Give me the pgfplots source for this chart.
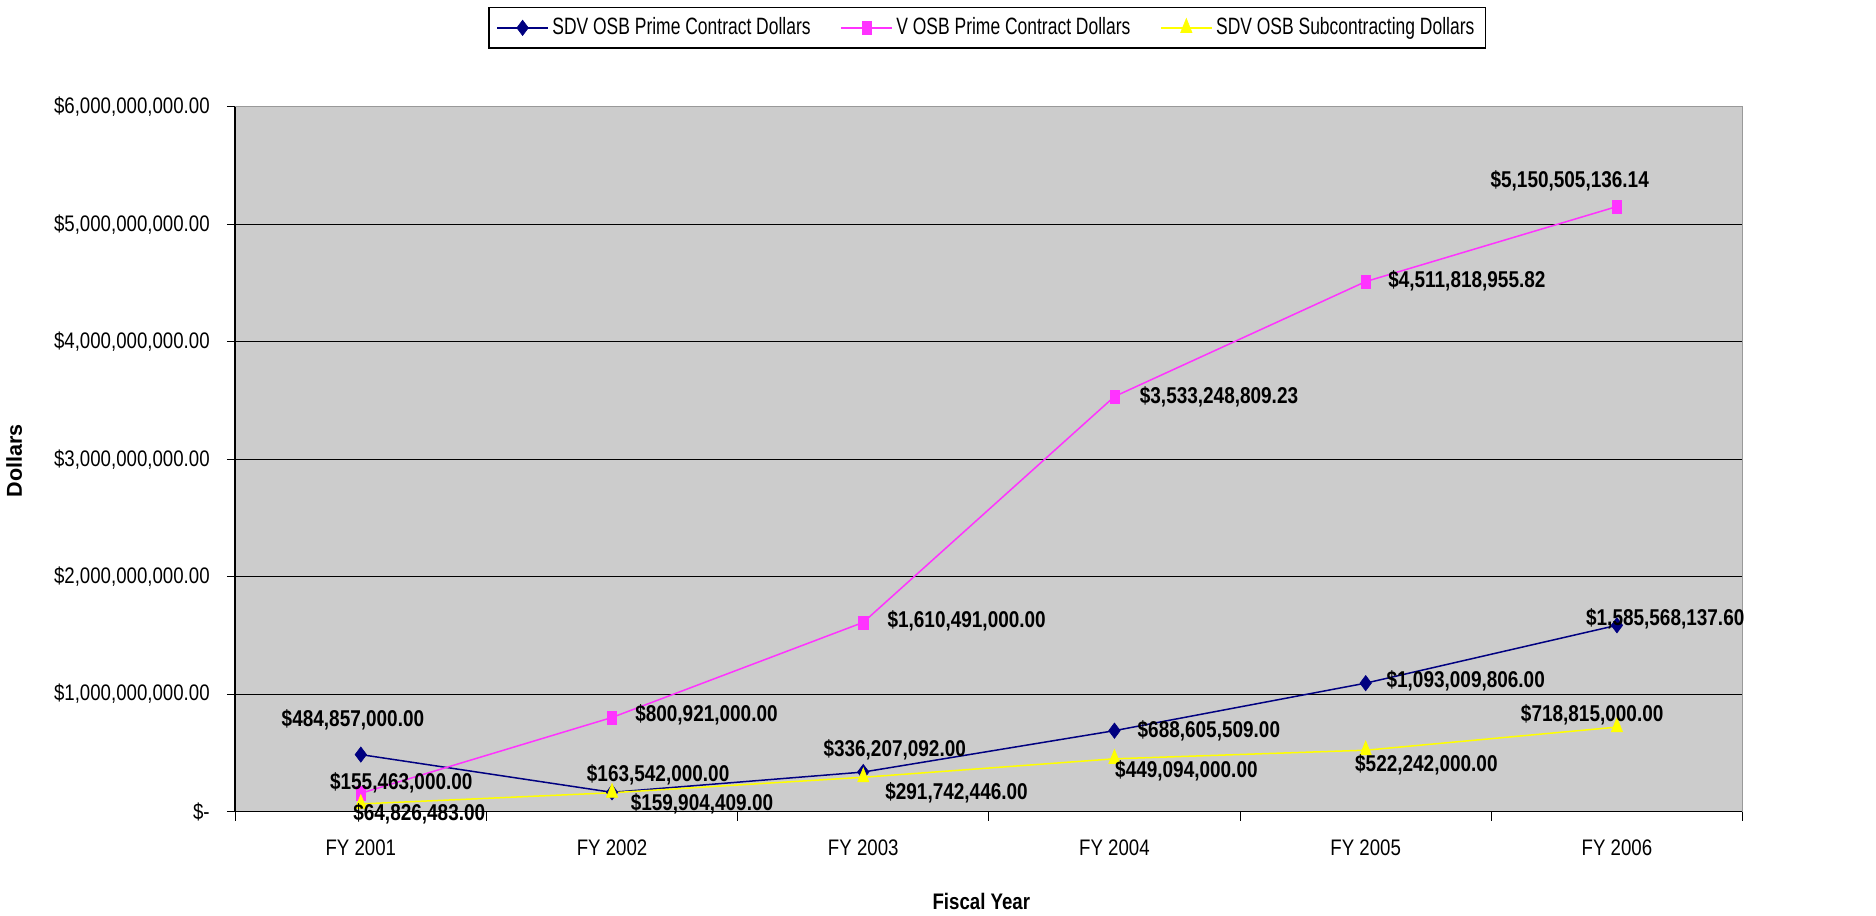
\documentclass[border=0pt]{standalone}
\usepackage{pgfplots}
\pgfplotsset{compat=1.18}
\usepackage{pgfplotstable}
\usepackage{fontspec}
\setmainfont{Liberation Sans}[FakeStretch=0.83]
\newfontfamily\widefont{Liberation Sans}
\newfontfamily\legfont{Liberation Sans}[FakeStretch=0.74]
\definecolor{plotbg}{RGB}{204,204,204}
\definecolor{navy}{RGB}{0,0,128}
\definecolor{magen}{RGB}{255,51,255}
\definecolor{yel}{RGB}{255,255,0}

\pgfplotstableread{
x y dx dy lab
0 484857000 -7 31 {\$484,857,000.00}
1 163542000 41 16 {\$163,542,000.00}
2 336207092 28 20 {\$336,207,092.00}
3 688605509 84 0 {\$688,605,509.00}
4 1093009806 89 2 {\$1,093,009,806.00}
5 1585568137.60 43 6 {\$1,585,568,137.60}
}\sdvp
\pgfplotstableread{
x y dx dy lab
0 155463000 36 9 {\$155,463,000.00}
1 800921000 84 2 {\$800,921,000.00}
2 1610491000 92 1 {\$1,610,491,000.00}
3 3533248809.23 93 0 {\$3,533,248,809.23}
4 4511818955.82 90 1 {\$4,511,818,955.82}
5 5150505136.14 -42 23 {\$5,150,505,136.14}
}\vosb
\pgfplotstableread{
x y dx dy lab
0 64826483 52 -9 {\$64,826,483.00}
1 159904409 80 -10 {\$159,904,409.00}
2 291742446 83 -14 {\$291,742,446.00}
3 449094000 64 -11 {\$449,094,000.00}
4 522242000 54 -13 {\$522,242,000.00}
5 718815000 -22 11 {\$718,815,000.00}
}\sdvs

\begin{document}
\begin{tikzpicture}
\path (-127.2pt,-53.4pt) rectangle (808.8pt,433.2pt);
\begin{axis}[
  at={(0pt,0pt)}, anchor=origin,
  scale only axis, width=804.6pt, height=376.2pt,
  xmin=-0.5, xmax=5.5, ymin=0, ymax=6e9,
  axis lines*=left,
  axis line style={black, line width=0.8pt},
  axis background/.style={fill=plotbg},
  clip=false,
  xtick={0,...,5},
  xticklabels={FY 2001,FY 2002,FY 2003,FY 2004,FY 2005,FY 2006},
  major x tick style={draw=none},
  minor xtick={-0.5,0.5,...,5.5},
  minor x tick style={black, line width=0.6pt},
  minor tick length=5pt,
  ytick={0,1e9,2e9,3e9,4e9,5e9,6e9},
  yticklabels={{\$-\hspace{8pt}},{\$1,000,000,000.00},{\$2,000,000,000.00},{\$3,000,000,000.00},{\$4,000,000,000.00},{\$5,000,000,000.00},{\$6,000,000,000.00}},
  major y tick style={black, line width=0.6pt},
  major tick length=4.5pt,
  tick align=outside,
  ymajorgrids,
  grid style={black, line width=0.6pt},
  scaled y ticks=false,
  ticklabel style={font=\fontsize{12}{14}\selectfont},
  yticklabel style={xshift=-5.6pt},
  xticklabel style={yshift=-7pt},
  xlabel={Fiscal Year},
  ylabel={Dollars},
  every axis x label/.style={at={(rel axis cs:0.495,0)}, yshift=-48pt, anchor=center, font=\fontsize{12}{14}\selectfont\bfseries},
  every axis y label/.style={at={(rel axis cs:0,0.4976)}, xshift=-118pt, rotate=90, anchor=center, font=\widefont\fontsize{11.5}{14}\selectfont\bfseries},
  legend columns=3,
  legend style={at={(rel axis cs:0.499,1.112)}, anchor=center, draw=black, fill=white, line width=0.8pt,
    font=\legfont\fontsize{12.6}{14}\selectfont, inner xsep=4pt, inner ysep=3.5pt,
    /tikz/every even column/.append style={column sep=14pt}},
  legend image code/.code={\draw[mark repeat=2,mark phase=2,#1] plot coordinates {(0pt,0pt) (13.5pt,0pt) (27pt,0pt)};},
  point meta=explicit symbolic,
  nodes near coords,
  visualization depends on={\thisrow{dx} \as \dx},
  visualization depends on={\thisrow{dy} \as \dy},
  nodes near coords style={anchor=center, inner sep=0pt, text=black,
    font=\fontsize{12.2}{14}\selectfont\bfseries,
    xshift={0.6pt*(\dx)}, yshift={0.6pt*(\dy)}},
]
\addplot[navy, line width=0.8pt, mark=diamond*, mark size=4.1pt, mark options={fill=navy, draw=navy, line width=0.3pt}]
  table[x=x, y=y, meta=lab] {\sdvp};
\addlegendentry{SDV OSB Prime Contract Dollars}
\addplot[magen, line width=0.8pt, mark=square*, mark size=2.5pt, mark options={yscale=1.4, fill=magen, draw=magen, line width=0.3pt}]
  table[x=x, y=y, meta=lab] {\vosb};
\addlegendentry{V OSB Prime Contract Dollars}
\addplot[yel, line width=0.8pt, mark=triangle*, mark size=3.5pt, mark options={yscale=1.43, fill=yel, draw=yel, line width=0.3pt}]
  table[x=x, y=y, meta=lab] {\sdvs};
\addlegendentry{SDV OSB Subcontracting Dollars}
\draw[gray!80, line width=0.6pt] (rel axis cs:1,0) -- (rel axis cs:1,1) -- (rel axis cs:0,1);
\end{axis}
\end{tikzpicture}
\end{document}
